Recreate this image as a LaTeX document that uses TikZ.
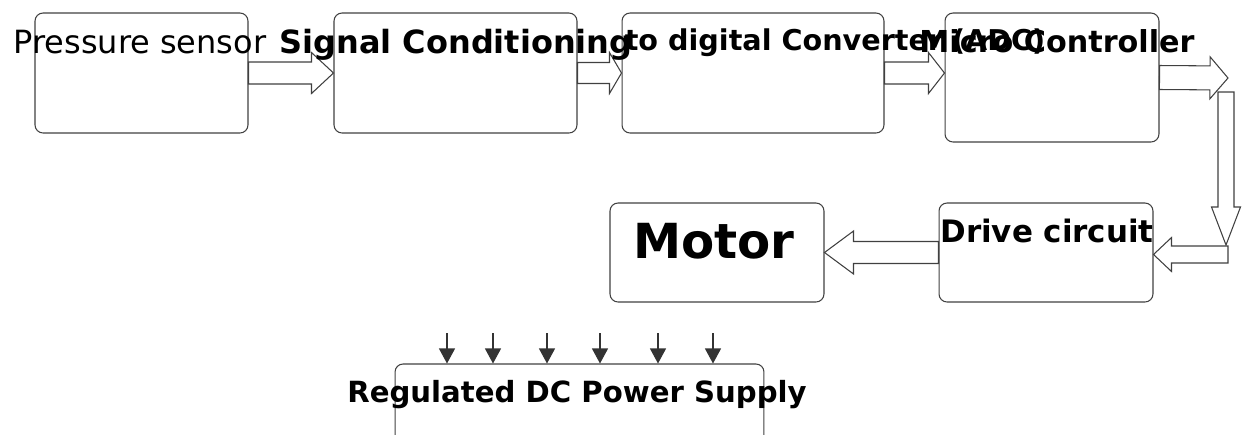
\documentclass[tikz,border=0pt]{standalone}
\usepackage{fontspec}
\setmainfont{DejaVu Sans}
\usepackage{tikz}
\usetikzlibrary{arrows.meta,calc}

\begin{document}
\begin{tikzpicture}[
  x=0.02cm, y=-0.02cm, >=Triangle,
  box/.style={draw=black!75, line width=0.6pt, rounded corners=0.16cm, inner sep=0pt},
  txt/.style={anchor=base, inner sep=0pt, font=\fontsize{#1}{#1}\selectfont\bfseries},
  plain/.style={anchor=base, inner sep=0pt, font=\fontsize{#1}{#1}\selectfont},
  blk/.style n args={3}{draw=black!75, line width=0.6pt, fill=white, line join=miter,
    to path={($(\tikztostart)!#1!90:(\tikztotarget)$)
      -- ($(\tikztotarget)!#3!(\tikztostart)!#1!90:(\tikztotarget)$)
      -- ($(\tikztotarget)!#3!(\tikztostart)!#2!90:(\tikztotarget)$)
      -- (\tikztotarget)
      -- ($(\tikztotarget)!#3!(\tikztostart)!#2!-90:(\tikztotarget)$)
      -- ($(\tikztotarget)!#3!(\tikztostart)!#1!-90:(\tikztotarget)$)
      -- ($(\tikztostart)!#1!-90:(\tikztotarget)$) -- cycle}},
  feed/.style={draw=black!80, line width=0.6pt, -{Triangle[length=0.3cm, width=0.32cm]}},
]
\useasboundingbox (0,0) rectangle (1252,434);
% ---- top row
\node[box, minimum width=4.26cm, minimum height=2.4cm] (sensor) at (141.5,73) {};
\node[box, minimum width=4.86cm, minimum height=2.4cm] (sigcond) at (455.5,73) {};
\node[box, minimum width=5.24cm, minimum height=2.4cm] (adc) at (753,73) {};
\node[box, minimum width=4.28cm, minimum height=2.58cm] (micro) at (1052,77.5) {};
% ---- second row
\node[box, minimum width=4.28cm, minimum height=1.98cm] (drive) at (1046,252.5) {};
\node[box, minimum width=4.28cm, minimum height=1.98cm] (motor) at (717,252.5) {};
% ---- supply, cut by the page edge
\node[box, minimum width=7.38cm, minimum height=2.32cm] (psu) at (579.5,422) {};
% block arrows
\draw[blk={0.22cm}{0.41cm}{0.44cm}] (sensor.east) to (sigcond.west);
\draw[blk={0.21cm}{0.41cm}{0.24cm}] (sigcond.east) to (adc.west);
\draw[blk={0.22cm}{0.41cm}{0.32cm}] (adc.east) to (adc.east -| micro.west);
\coordinate (bend1) at (1228,78);
\coordinate (down1) at (1226,92);
\coordinate (down2) at (1226,245);
\coordinate (bend2) at (1228,254.5);
\draw[blk={0.16cm}{0.29cm}{0.76cm}] (down1) to (down2);
\draw[blk={0.24cm}{0.42cm}{0.36cm}] (micro.east) to (bend1);
\draw[blk={0.17cm}{0.34cm}{0.36cm}] (bend2) to (bend2 -| drive.east);
\draw[blk={0.22cm}{0.43cm}{0.58cm}] (drive.west) to (motor.east);
% supply inputs
\foreach \x [count=\i] in {447,493,547,600,658,713} {
  \coordinate (in\i) at (\x,333);
  \draw[feed] (in\i) -- (in\i |- psu.north);
}
% labels
\node[plain=18.2] (sensor-t) at (140,53) {Pressure sensor};
\node[txt=18.2] (sigcond-t) at (456,53) {Signal Conditioning};
\node[txt=16.3] (adc-t) at (835,50) {to digital Converter (ADC)};
\node[txt=17.2] (micro-t) at (1057,52) {Micro Controller};
\node[txt=17.6] (drive-t) at (1047,242) {Drive circuit};
\node[txt=27.5] (motor-t) at (714,258) {Motor};
\node[txt=16.6] (psu-t) at (577,402) {Regulated DC Power Supply};
\end{tikzpicture}
\end{document}
